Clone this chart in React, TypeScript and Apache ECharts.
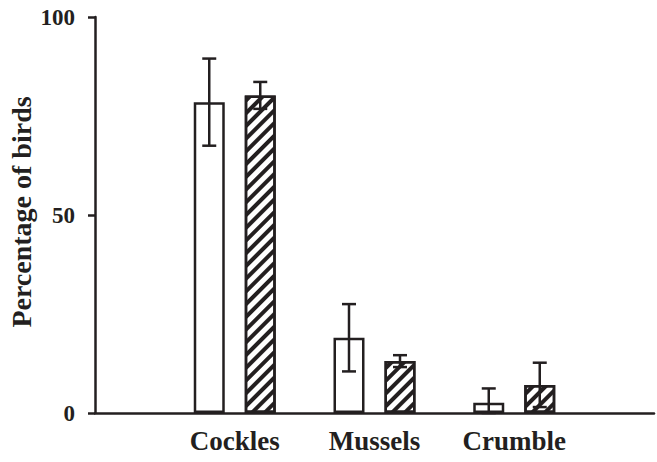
import React, { useEffect, useRef } from "react";
import * as echarts from "echarts";

// Diet categories (empty slots pad the axis on both sides)
const categories = ["", "Cockles", "Mussels", "Crumble", ""];
const yTicks = [0, 50, 100];

// Open bars: mean and error
const openMeans = [78.5, 19.0, 2.6];
const openErrors = [11.0, 8.5, 3.6];
// Hatched bars: mean and error
const hatchMeans = [80.2, 13.1, 7.1];
const hatchErrors = [3.4, 1.5, 5.6];

const INK = "#231f20";
const FONT = '"Liberation Serif", "Times New Roman", serif';

const BAR_W = 31;
const BAR_GAP = 20;
const OFFSET = (BAR_W + BAR_GAP) / 2;

function padded(values: number[]): (number | string)[] {
  return ["-", ...values, "-"];
}

function errorData(means: number[], errs: number[]) {
  return means.map((m, i) => [i + 1, m, errs[i]]);
}

function errorSeries(name: string, means: number[], errs: number[], dx: number) {
  return {
    name,
    type: "custom",
    z: 10,
    data: errorData(means, errs),
    renderItem: (_params: any, api: any) => {
      const idx = api.value(0);
      const mean = api.value(1);
      const err = api.value(2);
      const top = api.coord([idx, mean + err]);
      const bottom = api.coord([idx, Math.max(0, mean - err)]);
      const x = top[0] + dx;
      const half = 7;
      const style = { stroke: INK, lineWidth: 2.5, fill: "none" };
      return {
        type: "group",
        children: [
          { type: "line", shape: { x1: x, y1: top[1], x2: x, y2: bottom[1] }, style },
          { type: "line", shape: { x1: x - half, y1: top[1], x2: x + half, y2: top[1] }, style },
          { type: "line", shape: { x1: x - half, y1: bottom[1], x2: x + half, y2: bottom[1] }, style },
        ],
      };
    },
  };
}

export default function App() {
  const ref = useRef<HTMLDivElement>(null);

  useEffect(() => {
    if (!ref.current) return;
    const chart = echarts.init(ref.current, null, { renderer: "svg" });
    chart.setOption({
      animation: false,
      backgroundColor: "#ffffff",
      grid: { left: 95, top: 17, right: 0, bottom: 49, containLabel: false },
      graphic: [
        {
          type: "text",
          x: 21,
          y: 212,
          rotation: Math.PI / 2,
          style: {
            text: "Percentage of birds",
            font: `bold 28px ${FONT}`,
            fill: INK,
            align: "center",
            verticalAlign: "middle",
          },
        },
      ],
      xAxis: {
        type: "category",
        data: categories,
        boundaryGap: false,
        axisLine: { show: true, lineStyle: { color: INK, width: 2.5 } },
        axisTick: { show: false },
        splitLine: { show: false },
        axisLabel: {
          color: INK,
          fontFamily: FONT,
          fontWeight: "bold",
          fontSize: 27,
          margin: 14,
        },
      },
      yAxis: {
        type: "value",
        min: yTicks[0],
        max: yTicks[yTicks.length - 1],
        interval: yTicks[1] - yTicks[0],
        axisLine: { show: true, lineStyle: { color: INK, width: 2.5 } },
        axisTick: { show: true, inside: false, length: 7, lineStyle: { color: INK, width: 2.5 } },
        splitLine: { show: false },
        axisLabel: {
          color: INK,
          fontFamily: FONT,
          fontWeight: "bold",
          fontSize: 23,
          margin: 20,
        },
      },
      series: [
        {
          name: "open",
          type: "bar",
          data: padded(openMeans),
          barWidth: BAR_W,
          barGap: `${(BAR_GAP / BAR_W) * 100}%`,
          itemStyle: { color: "#ffffff", borderColor: INK, borderWidth: 2.5 },
        },
        {
          name: "hatched",
          type: "bar",
          data: padded(hatchMeans),
          barWidth: BAR_W,
          itemStyle: {
            color: "#ffffff",
            borderColor: INK,
            borderWidth: 2.5,
            decal: {
              symbol: "rect",
              symbolSize: 1,
              dashArrayX: [1, 0],
              dashArrayY: [4, 4.5],
              rotation: -Math.PI / 4,
              color: INK,
            },
          },
        },
        errorSeries("open-err", openMeans, openErrors, -OFFSET),
        errorSeries("hatched-err", hatchMeans, hatchErrors, OFFSET),
      ],
    });
    return () => chart.dispose();
  }, []);

  return (
    <div
      ref={ref}
      style={{ position: "fixed", left: 0, top: 0, width: 657, height: 462 }}
    />
  );
}
